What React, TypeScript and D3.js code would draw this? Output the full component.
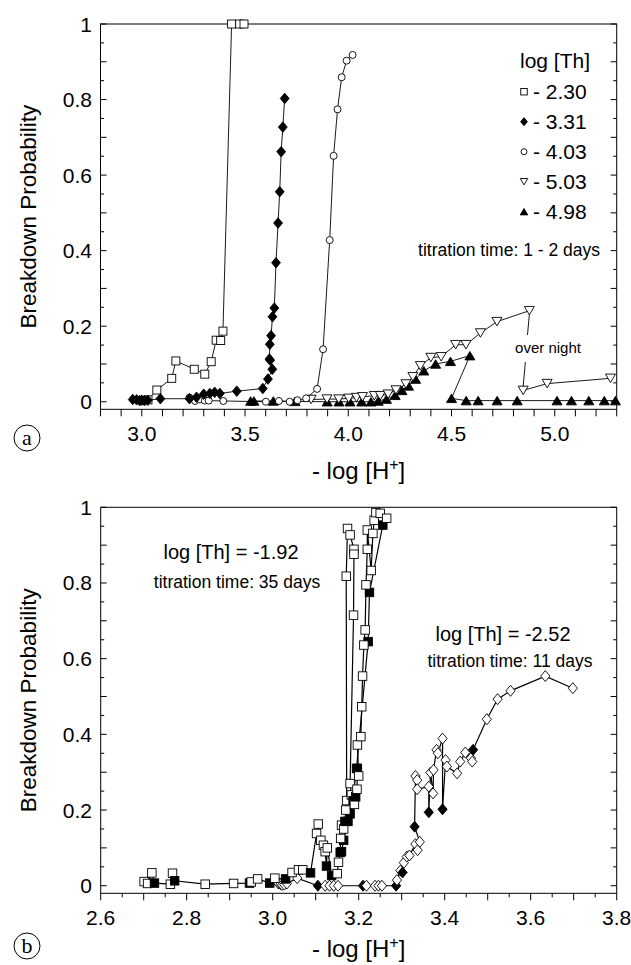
import React from "react";
import * as d3 from "d3";

// ---------- Panel (a) data: [ -log[H+], breakdown probability ] ----------
const legendLabels = ["- 2.30", "- 3.31", "- 4.03", "- 5.03", "- 4.98"];

const seriesTh230: [number, number][] = [
  [3.03, 0.005], [3.073, 0.031], [3.145, 0.062], [3.165, 0.108], [3.254, 0.086],
  [3.305, 0.073], [3.336, 0.106], [3.36, 0.163], [3.382, 0.162], [3.393, 0.187],
  [3.435, 1.0], [3.474, 1.0], [3.495, 1.0],
];
const seriesTh331: [number, number][] = [
  [2.956, 0.006], [2.975, 0.005], [2.99, 0.003], [3.0, 0.004], [3.013, 0.003],
  [3.029, 0.004], [3.09, 0.008], [3.231, 0.008], [3.265, 0.012], [3.3, 0.02],
  [3.33, 0.022], [3.353, 0.025], [3.378, 0.022], [3.46, 0.028], [3.586, 0.035],
  [3.611, 0.06], [3.632, 0.086], [3.622, 0.11], [3.618, 0.113], [3.62, 0.152],
  [3.626, 0.175], [3.633, 0.225], [3.642, 0.248], [3.65, 0.368], [3.66, 0.473],
  [3.668, 0.556], [3.675, 0.662], [3.683, 0.727], [3.692, 0.803],
];
const seriesTh403: [number, number][] = [
  [3.231, 0.011], [3.258, 0.002], [3.282, 0.006], [3.305, 0.003], [3.324, 0.003],
  [3.395, 0.002], [3.601, 0.0], [3.664, 0.002], [3.716, 0.0], [3.754, 0.004],
  [3.796, 0.009], [3.849, 0.034], [3.878, 0.139], [3.91, 0.428], [3.929, 0.651],
  [3.948, 0.774], [3.968, 0.859], [3.992, 0.903], [4.021, 0.918],
];
const seriesTh503Day: [number, number][] = [
  [3.82, 0.006], [3.897, 0.007], [3.954, 0.007], [4.002, 0.009], [4.04, 0.011],
  [4.069, 0.013], [4.126, 0.016], [4.155, 0.016], [4.193, 0.02], [4.231, 0.031],
  [4.279, 0.047], [4.313, 0.066], [4.349, 0.095], [4.4, 0.117], [4.45, 0.119],
  [4.52, 0.151], [4.57, 0.151], [4.64, 0.182], [4.72, 0.212], [4.877, 0.241],
];
const seriesTh503Night: [number, number][] = [
  [4.847, 0.03], [4.963, 0.048], [5.27, 0.062],
];
const seriesTh498: [number, number][] = [
  [3.527, 0.002], [3.543, 0.002], [3.637, 0.002], [3.742, 0.001], [3.898, 0.0],
  [3.955, 0.0], [4.008, 0.0], [4.065, 0.0], [4.11, 0.0], [4.145, 0.002],
  [4.185, 0.007], [4.227, 0.017], [4.26, 0.03], [4.292, 0.042], [4.326, 0.06],
  [4.366, 0.082], [4.423, 0.1], [4.495, 0.107], [4.589, 0.122], [4.5, 0.009],
  [4.571, 0.003], [4.629, 0.003], [4.721, 0.003], [4.818, 0.003], [5.011, 0.003],
  [5.081, 0.003], [5.165, 0.003], [5.24, 0.003], [5.294, 0.003],
];

// ---------- Panel (b) data: [ -log[H+], probability, filled(1)/open(0) ] ----------
const squaresTh192: [number, number, number][] = [
  [2.701, 0.011, 0], [2.709, 0.006, 0], [2.719, 0.034, 0], [2.725, 0.007, 1], [2.762, 0.004, 0],
  [2.767, 0.033, 0], [2.772, 0.013, 1], [2.843, 0.004, 0], [2.909, 0.006, 0], [2.946, 0.007, 1],
  [2.95, 0.01, 0], [2.965, 0.018, 0], [2.993, 0.007, 1], [3.005, 0.02, 0], [3.03, 0.018, 1],
  [3.045, 0.035, 0], [3.06, 0.042, 0], [3.07, 0.042, 0], [3.088, 0.034, 1], [3.102, 0.138, 0],
  [3.106, 0.163, 0], [3.112, 0.12, 0], [3.118, 0.107, 0], [3.122, 0.09, 0], [3.125, 0.052, 1],
  [3.127, 0.1, 0], [3.137, 0.027, 1], [3.15, 0.032, 0], [3.153, 0.062, 0], [3.157, 0.088, 1],
  [3.158, 0.125, 0], [3.16, 0.16, 0], [3.165, 0.15, 0], [3.168, 0.17, 1], [3.17, 0.2, 0],
  [3.172, 0.225, 0], [3.171, 0.818, 0], [3.174, 0.944, 0], [3.18, 0.927, 0], [3.189, 0.889, 0],
  [3.189, 0.876, 0], [3.188, 0.715, 0], [3.18, 0.27, 0], [3.183, 0.24, 0], [3.187, 0.225, 1],
  [3.19, 0.215, 0], [3.193, 0.235, 1], [3.196, 0.255, 0], [3.197, 0.31, 1], [3.2, 0.29, 0],
  [3.197, 0.372, 0], [3.205, 0.394, 0], [3.207, 0.473, 0], [3.209, 0.554, 0], [3.212, 0.636, 0],
  [3.215, 0.676, 0], [3.217, 0.795, 0], [3.22, 0.889, 0], [3.22, 0.94, 0], [3.229, 0.833, 0],
  [3.233, 0.931, 0], [3.236, 0.966, 0], [3.24, 0.986, 0], [3.25, 0.984, 0], [3.265, 0.971, 0],
];
const filledSquaresTh192: [number, number, number][] = [
  [3.16, 0.09, 1], [3.165, 0.12, 1], [3.175, 0.17, 1], [3.18, 0.19, 1], [3.186, 0.226, 1],
  [3.195, 0.31, 1], [3.222, 0.645, 1], [3.225, 0.775, 1], [3.256, 0.953, 1],
];
const diamondsTh252: [number, number, number][] = [
  [3.013, 0.006, 0], [3.018, 0.004, 0], [3.022, 0.002, 0], [3.027, 0.003, 0], [3.033, 0.006, 0],
  [3.057, 0.02, 0], [3.105, 0.0, 1], [3.122, 0.0, 0], [3.132, 0.0, 0], [3.142, 0.0, 0],
  [3.152, 0.0, 0], [3.21, 0.0, 1], [3.218, 0.0, 0], [3.238, 0.0, 0], [3.246, 0.0, 0],
  [3.254, 0.0, 0], [3.287, 0.0, 1], [3.289, 0.015, 0], [3.297, 0.04, 0], [3.302, 0.035, 1],
  [3.305, 0.061, 0], [3.312, 0.077, 0], [3.318, 0.08, 0], [3.332, 0.11, 0], [3.337, 0.094, 0],
  [3.342, 0.116, 0], [3.33, 0.156, 1], [3.332, 0.29, 0], [3.336, 0.279, 0], [3.336, 0.255, 0],
  [3.363, 0.262, 0], [3.363, 0.194, 1], [3.367, 0.299, 0], [3.373, 0.244, 0], [3.374, 0.306, 0],
  [3.381, 0.359, 0], [3.384, 0.35, 0], [3.395, 0.389, 0], [3.395, 0.202, 1], [3.402, 0.332, 0],
  [3.405, 0.315, 0], [3.429, 0.297, 0], [3.436, 0.328, 0], [3.448, 0.352, 0], [3.461, 0.337, 0],
  [3.464, 0.328, 0], [3.466, 0.359, 1], [3.498, 0.44, 0], [3.523, 0.493, 0], [3.553, 0.515, 0],
  [3.634, 0.554, 0], [3.698, 0.522, 0],
];

const yTickLabels = ["0", "0.2", "0.4", "0.6", "0.8", "1"];
const xTicksA = [3.0, 3.5, 4.0, 4.5, 5.0];
const xTicksB = [2.6, 2.8, 3.0, 3.2, 3.4, 3.6, 3.8];

const FONT = "'Liberation Sans', Arial, Helvetica, sans-serif";

// ---------- scales ----------
const xA = d3.scaleLinear().domain([2.8, 5.3]).range([100.5, 616.7]);
const yA = d3.scaleLinear().domain([-0.02, 1]).range([409.3, 24]);
const xB = d3.scaleLinear().domain([2.6, 3.8]).range([100.7, 616.7]);
const yB = d3.scaleLinear().domain([-0.02, 1]).range([893.3, 507.3]);

type Shape = "square" | "diamond" | "circle" | "triDown" | "triUp";

function Marker({ shape, x, y, s, filled }: { shape: Shape; x: number; y: number; s: number; filled: boolean }) {
  const fill = filled ? "#000" : "#fff";
  const common = { fill, stroke: "#000", strokeWidth: 0.9 };
  if (shape === "square") return <rect x={x - s / 2} y={y - s / 2} width={s} height={s} {...common} />;
  if (shape === "circle") return <circle cx={x} cy={y} r={s / 2} {...common} />;
  if (shape === "diamond") {
    const h = s / 2;
    const w = s * 0.42;
    return <path d={`M${x},${y - h}L${x + w},${y}L${x},${y + h}L${x - w},${y}Z`} {...common} />;
  }
  if (shape === "triDown") {
    const h = s * 0.85;
    return <path d={`M${x - s / 2},${y - h / 2}L${x + s / 2},${y - h / 2}L${x},${y + h / 2}Z`} {...common} />;
  }
  const h = s * 0.85;
  return <path d={`M${x - s / 2},${y + h / 2}L${x + s / 2},${y + h / 2}L${x},${y - h / 2}Z`} {...common} />;
}

function Frame({ x, y, xTicks, yLabelsAt, xMinorStep, xMin, xMax, titleY, labelY }: any) {
  const [x0, x1] = x.range();
  const [yb, yt] = y.range();
  const els: any[] = [];
  els.push(<rect key="frame" x={x0} y={yt} width={x1 - x0} height={yb - yt} fill="none" stroke="#000" strokeWidth={1} />);
  const nMinor = Math.round((xMax - xMin) / xMinorStep);
  for (let i = 0; i <= nMinor; i++) {
    const v = xMin + i * xMinorStep;
    const isMajor = Math.abs(v * 10 - Math.round(v * 10)) < 1e-6;
    const px = x(v);
    els.push(<line key={"xt" + i} x1={px} x2={px} y1={yb} y2={yb + (isMajor ? 7 : 4)} stroke="#000" strokeWidth={1} />);
  }
  xTicks.forEach((v: number, i: number) => {
    els.push(
      <text key={"xl" + i} x={x(v)} y={labelY} textAnchor="middle" fontSize={21} fontFamily={FONT}>
        {v.toFixed(1)}
      </text>
    );
  });
  for (let i = 0; i <= 20; i++) {
    const v = i * 0.05;
    const py = y(v);
    const len = i % 2 === 0 ? 6 : 3.5;
    els.push(<line key={"yl" + i} x1={x0} x2={x0 + len} y1={py} y2={py} stroke="#000" strokeWidth={1} />);
    els.push(<line key={"yr" + i} x1={x1} x2={x1 - len} y1={py} y2={py} stroke="#000" strokeWidth={1} />);
  }
  yLabelsAt.forEach((lab: string, i: number) => {
    els.push(
      <text key={"ylab" + i} x={92} y={y(i * 0.2) + 7.5} textAnchor="end" fontSize={21} fontFamily={FONT}>
        {lab}
      </text>
    );
  });
  const cy = (yb + yt) / 2;
  els.push(
    <text key="yt" transform={`translate(36,${cy}) rotate(-90)`} textAnchor="middle" fontSize={22.5} fontFamily={FONT}>
      Breakdown Probability
    </text>
  );
  els.push(
    <text key="xt" x={(x0 + x1) / 2} y={titleY} textAnchor="middle" fontSize={24} fontFamily={FONT}>
      - log [H<tspan dy={-9} fontSize={16}>+</tspan><tspan dy={9}>]</tspan>
    </text>
  );
  return <g>{els}</g>;
}

function Series({ data, x, y, shape, s, filled, lw }: any) {
  const line = d3.line<any>().x((d) => x(d[0])).y((d) => y(d[1]));
  return (
    <g>
      <path d={line(data) || ""} fill="none" stroke="#000" strokeWidth={lw} />
      {data.map((d: any, i: number) => (
        <Marker key={i} shape={shape} x={x(d[0])} y={y(d[1])} s={s} filled={d.length > 2 ? d[2] === 1 : filled} />
      ))}
    </g>
  );
}

function PanelA() {
  const legendShapes: Shape[] = ["square", "diamond", "circle", "triDown", "triUp"];
  const legendFilled = [false, true, false, false, true];
  const legendSize = [6.5, 8, 6, 7.5, 7.5];
  const p1 = [xA(seriesTh503Day[seriesTh503Day.length - 1][0]), yA(seriesTh503Day[seriesTh503Day.length - 1][1])];
  const p2 = [xA(seriesTh503Night[0][0]), yA(seriesTh503Night[0][1])];
  const at = (py: number) => p1[0] + ((py - p1[1]) / (p2[1] - p1[1])) * (p2[0] - p1[0]);
  const gapTop = 335;
  const gapBot = 362;
  return (
    <g>
      <Frame x={xA} y={yA} xTicks={xTicksA} yLabelsAt={yTickLabels} xMinorStep={0.1} xMin={2.8} xMax={5.3} titleY={479} labelY={441} />
      <Series data={seriesTh498} x={xA} y={yA} shape="triUp" s={10} filled={true} lw={0.9} />
      <Series data={seriesTh503Day} x={xA} y={yA} shape="triDown" s={10} filled={false} lw={0.9} />
      <Series data={seriesTh503Night} x={xA} y={yA} shape="triDown" s={10} filled={false} lw={0.9} />
      <line x1={p1[0]} y1={p1[1] + 4} x2={at(gapTop)} y2={gapTop} stroke="#000" strokeWidth={0.9} />
      <line x1={at(gapBot)} y1={gapBot} x2={p2[0]} y2={p2[1] - 4} stroke="#000" strokeWidth={0.9} />
      <Series data={seriesTh403} x={xA} y={yA} shape="circle" s={7} filled={false} lw={0.9} />
      <Series data={seriesTh230} x={xA} y={yA} shape="square" s={8} filled={false} lw={0.9} />
      <Series data={seriesTh331} x={xA} y={yA} shape="diamond" s={10.5} filled={true} lw={0.9} />
      <text x={548} y={353} textAnchor="middle" fontSize={15} fontFamily={FONT}>over night</text>
      <text x={520} y={68} fontSize={21} fontFamily={FONT}>log [Th]</text>
      {legendLabels.map((lab, i) => (
        <g key={i}>
          <Marker shape={legendShapes[i]} x={524} y={91.7 + i * 30} s={legendSize[i]} filled={legendFilled[i]} />
          <text x={533} y={91.7 + i * 30 + 7.5} fontSize={21} fontFamily={FONT}>{lab}</text>
        </g>
      ))}
      <text x={600} y={256} textAnchor="end" fontSize={17.5} fontFamily={FONT}>titration time: 1 - 2 days</text>
    </g>
  );
}

function PanelB() {
  return (
    <g>
      <Frame x={xB} y={yB} xTicks={xTicksB} yLabelsAt={yTickLabels} xMinorStep={0.05} xMin={2.6} xMax={3.8} titleY={957} labelY={925} />
      <Series data={diamondsTh252} x={xB} y={yB} shape="diamond" s={11} filled={false} lw={1.2} />
      <Series data={filledSquaresTh192} x={xB} y={yB} shape="square" s={8.5} filled={true} lw={1.2} />
      <Series data={squaresTh192} x={xB} y={yB} shape="square" s={8.5} filled={false} lw={1.2} />
      <text x={231} y={559} textAnchor="middle" fontSize={20} fontFamily={FONT}>log [Th] = -1.92</text>
      <text x={237} y={588} textAnchor="middle" fontSize={17.5} fontFamily={FONT}>titration time: 35 days</text>
      <text x={503} y={641} textAnchor="middle" fontSize={20} fontFamily={FONT}>log [Th] = -2.52</text>
      <text x={510} y={667} textAnchor="middle" fontSize={17.5} fontFamily={FONT}>titration time: 11 days</text>
    </g>
  );
}

function CircleLabel({ cx, cy, t }: { cx: number; cy: number; t: string }) {
  return (
    <g>
      <circle cx={cx} cy={cy} r={13} fill="none" stroke="#000" strokeWidth={1} />
      <text x={cx} y={cy + 7} textAnchor="middle" fontSize={22} fontFamily="'Liberation Serif', 'Times New Roman', serif">{t}</text>
    </g>
  );
}

export default function App() {
  return (
    <svg width={631} height={965} style={{ position: "absolute", left: 0, top: 0, background: "#fff" }}>
      <rect width={631} height={965} fill="#fff" />
      <PanelA />
      <PanelB />
      <CircleLabel cx={27} cy={438} t="a" />
      <CircleLabel cx={27} cy={946} t="b" />
    </svg>
  );
}
